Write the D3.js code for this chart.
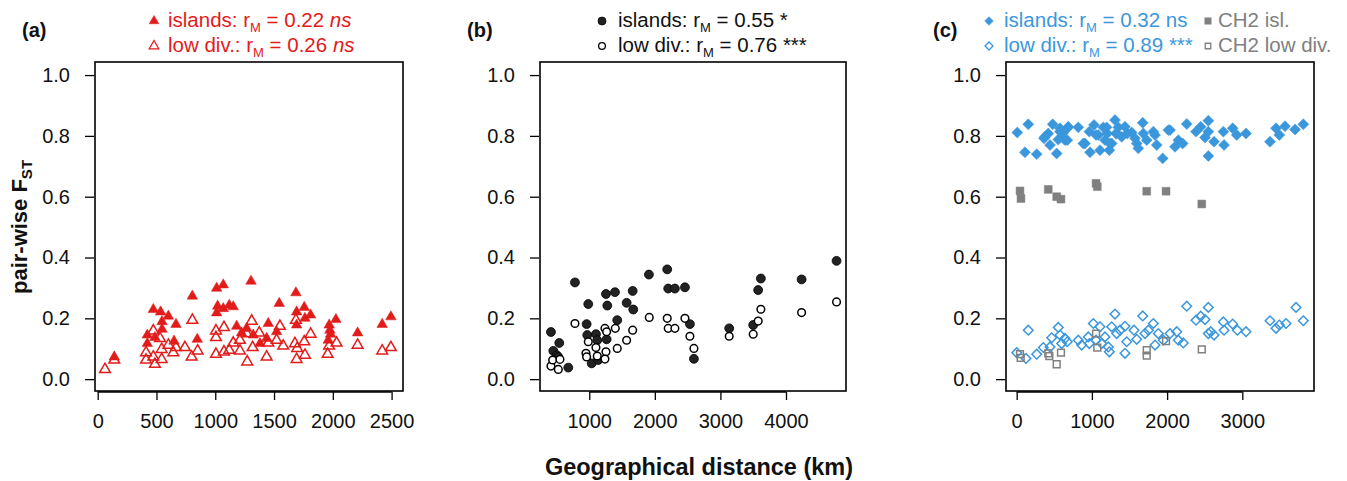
<!DOCTYPE html>
<html>
<head>
<meta charset="utf-8">
<script src="https://cdn.jsdelivr.net/npm/d3@7"></script>
<style>
  body { margin: 0; background: #fff; }
  svg { font-family: "Liberation Sans", Arial, sans-serif; }
</style>
</head>
<body>
<div id="chart"></div>
<script>
// pairwise FST vs geographical distance, [km, FST]
const aIslands = [[141,0.073],[473,0.229],[535,0.221],[601,0.207],[547,0.189],[547,0.164],[666,0.180],[422,0.145],[422,0.117],[487,0.137],[649,0.125],[805,0.273],[847,0.131],[1012,0.299],[1068,0.310],[1020,0.240],[1012,0.218],[1068,0.232],[1119,0.243],[1153,0.238],[1304,0.322],[1182,0.174],[1267,0.167],[1224,0.152],[1323,0.145],[1380,0.117],[1437,0.134],[1451,0.183],[1544,0.249],[1522,0.156],[1686,0.284],[1692,0.221],[1692,0.178],[1757,0.236],[1763,0.200],[1811,0.211],[1969,0.178],[1975,0.161],[1981,0.148],[1961,0.128],[2026,0.196],[2211,0.152],[2420,0.180],[2494,0.205]];
const aLowDiv = [[62,0.032],[141,0.063],[411,0.087],[411,0.063],[473,0.159],[473,0.073],[487,0.049],[530,0.134],[544,0.098],[544,0.065],[601,0.112],[643,0.087],[666,0.104],[742,0.104],[799,0.073],[805,0.194],[850,0.093],[1006,0.159],[1006,0.137],[1006,0.082],[1074,0.170],[1074,0.090],[1119,0.095],[1153,0.119],[1210,0.128],[1210,0.093],[1272,0.057],[1267,0.150],[1310,0.191],[1318,0.104],[1374,0.152],[1437,0.073],[1451,0.119],[1522,0.128],[1550,0.174],[1578,0.109],[1678,0.117],[1686,0.194],[1697,0.101],[1692,0.065],[1757,0.123],[1763,0.079],[1811,0.148],[1956,0.082],[1969,0.109],[2032,0.119],[2211,0.112],[2420,0.093],[2494,0.104]];

const bIslands = [[416,0.155],[452,0.093],[503,0.079],[543,0.119],[528,0.073],[680,0.038],[782,0.318],[960,0.181],[985,0.247],[970,0.145],[1037,0.052],[1102,0.148],[1122,0.128],[1137,0.063],[1255,0.280],[1275,0.242],[1265,0.131],[1392,0.286],[1427,0.194],[1570,0.251],[1662,0.290],[1671,0.229],[1910,0.344],[2189,0.361],[2204,0.298],[2306,0.298],[2459,0.302],[2535,0.181],[2596,0.067],[3134,0.167],[3500,0.178],[3576,0.293],[3617,0.331],[4238,0.328],[4771,0.389]];
const bLowDiv = [[416,0.043],[442,0.063],[528,0.032],[553,0.065],[782,0.183],[950,0.085],[960,0.073],[985,0.123],[1102,0.104],[1122,0.076],[1239,0.167],[1265,0.156],[1255,0.090],[1239,0.066],[1397,0.167],[1427,0.101],[1570,0.128],[1662,0.161],[1915,0.203],[2189,0.200],[2204,0.167],[2306,0.167],[2459,0.200],[2535,0.141],[2596,0.101],[3134,0.141],[3500,0.148],[3576,0.191],[3617,0.230],[4238,0.219],[4771,0.254]];

const cIslands = [[8,0.811],[154,0.838],[110,0.746],[266,0.740],[363,0.792],[376,0.797],[420,0.808],[479,0.838],[443,0.770],[532,0.742],[553,0.788],[576,0.825],[576,0.814],[612,0.808],[642,0.786],[673,0.825],[673,0.786],[686,0.830],[819,0.828],[886,0.775],[908,0.775],[966,0.814],[975,0.746],[1028,0.836],[1055,0.803],[1085,0.803],[1108,0.753],[1152,0.828],[1174,0.786],[1196,0.828],[1205,0.808],[1232,0.753],[1241,0.775],[1263,0.775],[1307,0.852],[1320,0.808],[1330,0.808],[1351,0.828],[1396,0.797],[1440,0.830],[1471,0.808],[1529,0.811],[1573,0.792],[1596,0.775],[1617,0.759],[1676,0.843],[1684,0.808],[1729,0.786],[1817,0.814],[1839,0.803],[1862,0.770],[1941,0.726],[2016,0.819],[2039,0.819],[2105,0.764],[2149,0.786],[2207,0.775],[2261,0.839],[2384,0.814],[2447,0.830],[2504,0.795],[2548,0.850],[2548,0.814],[2548,0.734],[2624,0.781],[2748,0.814],[2757,0.770],[2872,0.825],[2926,0.803],[3049,0.808],[3368,0.781],[3448,0.825],[3492,0.803],[3568,0.832],[3701,0.821],[3811,0.838]];
const cLowDiv = [[0,0.087],[124,0.068],[154,0.161],[266,0.082],[354,0.104],[465,0.136],[443,0.106],[553,0.170],[576,0.145],[598,0.117],[642,0.134],[673,0.123],[819,0.128],[864,0.112],[952,0.139],[966,0.117],[1019,0.183],[1055,0.128],[1108,0.172],[1130,0.117],[1174,0.139],[1218,0.106],[1232,0.090],[1263,0.172],[1307,0.214],[1330,0.150],[1374,0.161],[1440,0.174],[1440,0.085],[1463,0.123],[1560,0.161],[1596,0.131],[1676,0.208],[1706,0.150],[1751,0.161],[1817,0.183],[1839,0.112],[1883,0.150],[1950,0.128],[2039,0.150],[2128,0.156],[2149,0.128],[2215,0.119],[2261,0.240],[2384,0.194],[2447,0.207],[2504,0.196],[2548,0.236],[2548,0.150],[2580,0.156],[2624,0.145],[2748,0.188],[2757,0.161],[2872,0.181],[2934,0.161],[3049,0.156],[3368,0.192],[3448,0.167],[3492,0.178],[3581,0.183],[3714,0.236],[3811,0.192]];
const cCh2Isl = [[44,0.619],[57,0.594],[420,0.624],[532,0.600],[589,0.592],[1055,0.644],[1072,0.633],[1729,0.618],[1986,0.618],[2461,0.576]];
const cCh2Low = [[44,0.082],[53,0.070],[420,0.085],[434,0.076],[532,0.049],[589,0.087],[1055,0.150],[1072,0.104],[1729,0.095],[1729,0.077],[1986,0.125],[2461,0.098]];

const yTicks = [0, 0.2, 0.4, 0.6, 0.8, 1.0];
const aTicks = [0, 500, 1000, 1500, 2000, 2500];
const bTicks = [1000, 2000, 3000, 4000];
const cTicks = [0, 1000, 2000, 3000];

const panelLabels = ["(a)", "(b)", "(c)"];
// legend text: [label, r value, significance, italic?]
const aLegend = [["islands:", "0.22", "ns", true], ["low div.:", "0.26", "ns", true]];
const bLegend = [["islands:", "0.55", "*", false], ["low div.:", "0.76", "***", false]];
const cLegend = [["islands:", "0.32", "ns", false], ["low div.:", "0.89", "***", false]];
const ch2Legend = ["CH2 isl.", "CH2 low div."];

const RED = "#e21b1b", BLUE = "#3b97dc", GRAY = "#808080", DARK = "#222";

const W = 1347, H = 481;
const svg = d3.select("#chart").append("svg").attr("width", W).attr("height", H);

const plotTop = 62, plotBottom = 391;
const y = d3.scaleLinear().domain([-0.039, 1.043]).range([plotBottom, plotTop]);

const shapes = {
    tri: { type: d3.symbolTriangle, rot: "" },
    circ: { type: d3.symbolCircle, rot: "" },
    dia: { type: d3.symbolSquare, rot: " rotate(45)" },
    sq: { type: d3.symbolSquare, rot: "" }
};

const panels = [
    {
        label: panelLabels[0], left: 95, right: 403, domain: [-23, 2597], ticks: aTicks,
        series: [
            { data: aIslands, shape: "tri", size: 48, fill: RED, stroke: RED, sw: 0.5 },
            { data: aLowDiv, shape: "tri", size: 50, fill: "none", stroke: RED, sw: 1.5 }
        ],
        legend: { x: 154, text: 168, color: RED, rows: aLegend,
                  sym: [{ shape: "tri", size: 40, fill: RED, stroke: RED, sw: 0.5 },
                        { shape: "tri", size: 40, fill: "none", stroke: RED, sw: 1.3 }] }
    },
    {
        label: panelLabels[1], left: 540, right: 846, domain: [249, 4915], ticks: bTicks,
        series: [
            { data: bIslands, shape: "circ", size: 62, fill: DARK, stroke: "#000", sw: 0.8 },
            { data: bLowDiv, shape: "circ", size: 46, fill: "#fff", stroke: "#000", sw: 1.5 }
        ],
        legend: { x: 602, text: 618, color: "#111", rows: bLegend,
                  sym: [{ shape: "circ", size: 50, fill: DARK, stroke: "#000", sw: 0.8 },
                        { shape: "circ", size: 36, fill: "#fff", stroke: "#000", sw: 1.3 }] }
    },
    {
        label: panelLabels[2], left: 1006, right: 1314, domain: [-142, 3953], ticks: cTicks,
        series: [
            { data: cIslands, shape: "dia", size: 60, fill: BLUE, stroke: BLUE, sw: 0.5 },
            { data: cLowDiv, shape: "dia", size: 46, fill: "none", stroke: BLUE, sw: 1.5 },
            { data: cCh2Isl, shape: "sq", size: 62, fill: GRAY, stroke: GRAY, sw: 0.5 },
            { data: cCh2Low, shape: "sq", size: 46, fill: "none", stroke: GRAY, sw: 1.5 }
        ],
        legend: { x: 989, text: 1004, color: BLUE, rows: cLegend,
                  sym: [{ shape: "dia", size: 38, fill: BLUE, stroke: BLUE, sw: 0.5 },
                        { shape: "dia", size: 32, fill: "none", stroke: BLUE, sw: 1.3 }] }
    }
];

function symPath(shape, size) {
    return d3.symbol().type(shapes[shape].type).size(size)();
}

panels.forEach(p => {
    const x = d3.scaleLinear().domain(p.domain).range([p.left, p.right]);
    const g = svg.append("g");

    // points
    p.series.forEach(s => {
        g.append("g").selectAll("path")
            .data(s.data)
            .join("path")
            .attr("transform", d => `translate(${x(d[0])},${y(d[1])})${shapes[s.shape].rot}`)
            .attr("d", symPath(s.shape, s.size))
            .attr("fill", s.fill)
            .attr("stroke", s.stroke)
            .attr("stroke-width", s.sw);
    });

    // box
    g.append("rect")
        .attr("x", p.left).attr("y", plotTop)
        .attr("width", p.right - p.left).attr("height", plotBottom - plotTop)
        .attr("fill", "none").attr("stroke", "#000").attr("stroke-width", 1.6);

    // x axis
    const xa = g.append("g")
        .attr("transform", `translate(0,${plotBottom + 1})`)
        .call(d3.axisBottom(x).tickValues(p.ticks).tickSize(8).tickPadding(14).tickFormat(d3.format("d")));
    xa.select(".domain").remove();
    xa.append("line")
        .attr("x1", x(p.ticks[0])).attr("x2", x(p.ticks[p.ticks.length - 1]))
        .attr("stroke", "#000").attr("stroke-width", 1.3);

    // y axis
    const ya = g.append("g")
        .attr("transform", `translate(${p.left - 1},0)`)
        .call(d3.axisLeft(y).tickValues(yTicks).tickSize(9).tickPadding(15).tickFormat(d3.format(".1f")));
    ya.select(".domain").remove();

    [xa, ya].forEach(a => {
        a.selectAll(".tick line").attr("stroke", "#000").attr("stroke-width", 1.3);
        a.selectAll(".tick text").attr("font-size", 20).attr("fill", "#111")
            .attr("font-family", "'Liberation Sans', Arial, sans-serif");
    });

    // panel label
    g.append("text")
        .attr("x", p.left - 73).attr("y", 37)
        .attr("font-size", 20).attr("font-weight", "bold").attr("fill", "#111")
        .text(p.label);

    // legend
    p.legend.rows.forEach((r, i) => {
        const base = 27 + i * 25;
        const sm = p.legend.sym[i];
        g.append("path")
            .attr("transform", `translate(${p.legend.x},${base - 6})${shapes[sm.shape].rot}`)
            .attr("d", symPath(sm.shape, sm.size))
            .attr("fill", sm.fill).attr("stroke", sm.stroke).attr("stroke-width", sm.sw);
        const t = g.append("text")
            .attr("x", p.legend.text).attr("y", base)
            .attr("font-size", 20.5).attr("fill", p.legend.color);
        t.append("tspan").text(`${r[0]} r`);
        t.append("tspan").attr("font-size", 13).attr("dy", 5).text("M");
        t.append("tspan").attr("dy", -5).text(` = ${r[1]} `);
        t.append("tspan").attr("font-style", r[3] ? "italic" : "normal").text(r[2]);
    });
});

// CH2 legend in panel c
const ch2Sym = [{ fill: GRAY, sw: 0.5 }, { fill: "none", sw: 1.3 }];
ch2Legend.forEach((lab, i) => {
    const base = 27 + i * 25;
    svg.append("path")
        .attr("transform", `translate(1208,${base - 6})`)
        .attr("d", symPath("sq", i === 0 ? 42 : 30))
        .attr("fill", ch2Sym[i].fill).attr("stroke", GRAY).attr("stroke-width", ch2Sym[i].sw);
    svg.append("text")
        .attr("x", 1218).attr("y", base)
        .attr("font-size", 20.5).attr("fill", GRAY)
        .text(lab);
});

// axis titles
const yt = svg.append("text")
    .attr("transform", "translate(27,227) rotate(-90)")
    .attr("text-anchor", "middle")
    .attr("font-size", 22).attr("font-weight", "bold").attr("fill", "#111");
yt.append("tspan").text("pair-wise F");
yt.append("tspan").attr("font-size", 15).attr("dy", 5).text("ST");

svg.append("text")
    .attr("x", 699).attr("y", 475)
    .attr("text-anchor", "middle")
    .attr("font-size", 23.5).attr("font-weight", "bold").attr("fill", "#111")
    .text("Geographical distance (km)");
</script>
</body>
</html>
